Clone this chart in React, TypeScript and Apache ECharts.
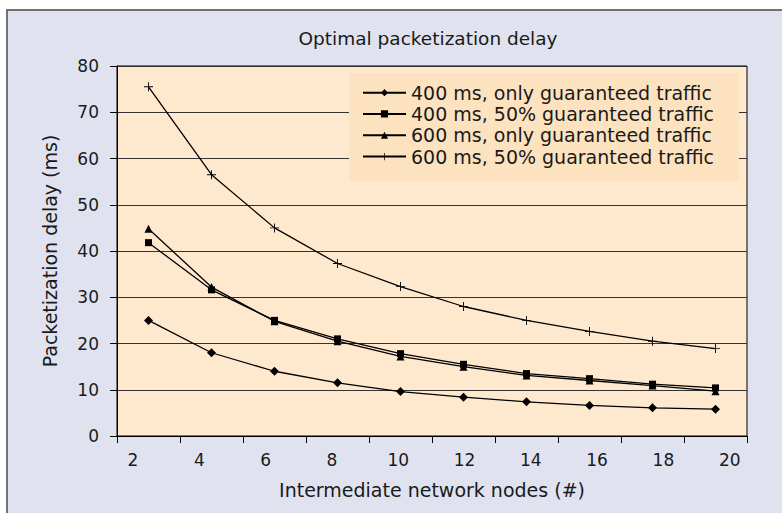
import React, { useEffect, useRef } from "react";
import * as echarts from "echarts";

const categories = ["2", "4", "6", "8", "10", "12", "14", "16", "18", "20"];
const tickLabels = [2, 4, 6, 8, 10, 12, 14, 16, 18, 20];
const seriesNames = [
  "400 ms, only guaranteed traffic",
  "400 ms, 50% guaranteed traffic",
  "600 ms, only guaranteed traffic",
  "600 ms, 50% guaranteed traffic",
];
const s400only = [25, 18, 14, 11.5, 9.6, 8.4, 7.4, 6.6, 6.1, 5.8];
const s400half = [41.8, 31.6, 25, 21, 17.8, 15.5, 13.5, 12.4, 11.2, 10.4];
const s600only = [44.8, 32.2, 24.8, 20.5, 17.2, 15, 13.1, 12, 10.9, 9.7];
const s600half = [75.5, 56.5, 45, 37.3, 32.3, 28, 25, 22.6, 20.5, 18.9];

const FONT = "DejaVu Sans";
const FS_TICK = 17;
const FS_TEXT = 19;
const TXT = "#1a1a1a";
const PLUS = "path://M4.5,0h1v4.5h4.5v1h-4.5v4.5h-1v-4.5h-4.5v-1h4.5z";

export default function App() {
  const ref = useRef<HTMLDivElement>(null);
  useEffect(() => {
    if (!ref.current) return;
    const chart = echarts.init(ref.current, undefined, { renderer: "svg" });
    const mk = (name: string, data: number[], symbol: string, size: number) => ({
      name,
      type: "line",
      data,
      symbol,
      symbolSize: size,
      showAllSymbol: true,
      xAxisIndex: 0,
      lineStyle: { color: "#000", width: 1.3 },
      itemStyle: { color: "#000" },
      emphasis: { disabled: true },
    });
    chart.setOption({
      animation: false,
      backgroundColor: "#e0e3ef",
      textStyle: { fontFamily: FONT },
      graphic: [
        { type: "rect", shape: { x: 0, y: 0, width: 782, height: 9 }, style: { fill: "#ffffff" }, silent: true },
        { type: "rect", shape: { x: 0, y: 0, width: 6, height: 513 }, style: { fill: "#ffffff" }, silent: true },
        { type: "line", shape: { x1: 6, y1: 10, x2: 782, y2: 10 }, style: { stroke: "#727272", lineWidth: 2 }, silent: true },
        { type: "line", shape: { x1: 7, y1: 9, x2: 7, y2: 513 }, style: { stroke: "#727272", lineWidth: 2 }, silent: true },
      ],
      title: {
        text: "Optimal packetization delay",
        left: 428,
        textAlign: "center",
        top: 29,
        padding: 0,
        textStyle: { fontFamily: FONT, fontSize: 18.5, fontWeight: "normal", color: TXT },
      },
      legend: {
        left: 349,
        top: 73,
        orient: "vertical",
        backgroundColor: "#fde2bf",
        padding: [9, 25, 14, 13],
        itemWidth: 43,
        itemHeight: 9,
        itemGap: 0,
        selectedMode: false,
        textStyle: { fontFamily: FONT, fontSize: FS_TEXT, color: TXT, lineHeight: 21.3 },
        data: seriesNames,
      },
      grid: {
        left: 117,
        right: 35,
        top: 66,
        bottom: 77,
        show: true,
        backgroundColor: "#fee9cf",
        borderColor: "#000",
        borderWidth: 1,
        containLabel: false,
      },
      xAxis: [
        {
          type: "category",
          position: "bottom",
          data: categories,
          boundaryGap: true,
          name: "Intermediate network nodes (#)",
          nameLocation: "middle",
          nameGap: 44.5,
          nameTextStyle: { fontFamily: FONT, fontSize: FS_TEXT, color: TXT },
          axisLine: { lineStyle: { color: "#000", width: 1 } },
          axisTick: { show: true, length: 7, alignWithLabel: false, lineStyle: { color: "#000" } },
          axisLabel: { show: false },
          splitLine: { show: false },
        },
        {
          type: "value",
          position: "bottom",
          min: 1.518,
          max: 20.521,
          axisLine: { show: false },
          axisTick: { show: false },
          splitLine: { show: false },
          axisLabel: {
            customValues: tickLabels,
            margin: 15.5,
            fontFamily: FONT,
            fontSize: FS_TICK,
            color: TXT,
          },
        },
      ],
      yAxis: {
        type: "value",
        min: 0,
        max: 80,
        interval: 10,
        name: "Packetization delay (ms)",
        nameLocation: "middle",
        nameGap: 57.5,
        nameTextStyle: { fontFamily: FONT, fontSize: FS_TEXT, color: TXT },
        axisLine: { show: true, lineStyle: { color: "#000", width: 1 } },
        axisTick: { show: true, length: 7, lineStyle: { color: "#000" } },
        axisLabel: { margin: 18, fontFamily: FONT, fontSize: FS_TICK, color: TXT },
        splitLine: { show: true, lineStyle: { color: "#333", width: 1 } },
      },
      series: [
        mk(seriesNames[0], s400only, "diamond", 9),
        mk(seriesNames[1], s400half, "rect", 7),
        mk(seriesNames[2], s600only, "triangle", 8),
        mk(seriesNames[3], s600half, PLUS, 9),
      ],
    });
    return () => chart.dispose();
  }, []);
  return (
    <div
      ref={ref}
      style={{ position: "fixed", left: 0, top: 0, width: 782, height: 513 }}
    />
  );
}
